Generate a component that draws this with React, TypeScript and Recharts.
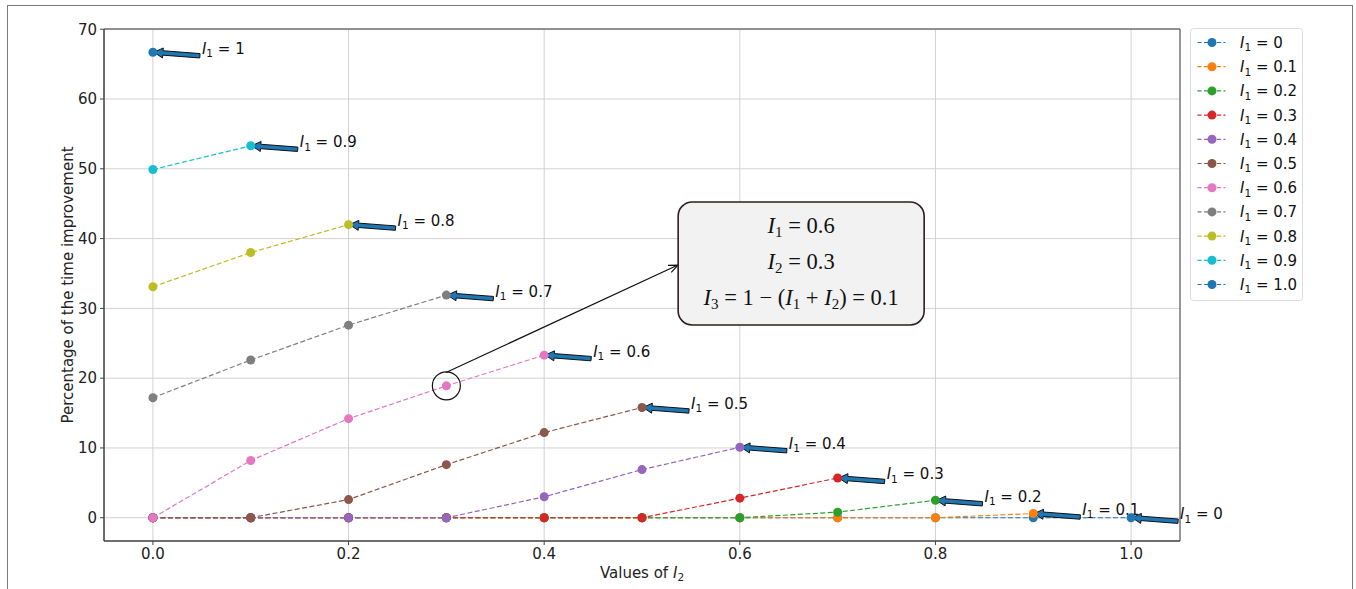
import React from 'react';
import {
  LineChart, Line, XAxis, YAxis, CartesianGrid, ReferenceDot, ReferenceLine, ReferenceArea, Legend,
} from 'recharts';

// ---- data ----
const I2_VALUES = [0, 0.1, 0.2, 0.3, 0.4, 0.5, 0.6, 0.7, 0.8, 0.9, 1.0];
const I1_LEVELS = ['0', '0.1', '0.2', '0.3', '0.4', '0.5', '0.6', '0.7', '0.8', '0.9', '1.0'];
const ARROW_LABELS = ['0', '0.1', '0.2', '0.3', '0.4', '0.5', '0.6', '0.7', '0.8', '0.9', '1'];

const IMPROVEMENT_I1_00 = [0, 0, 0, 0, 0, 0, 0, 0, 0, 0, 0];
const IMPROVEMENT_I1_01 = [0, 0, 0, 0, 0, 0, 0, 0, 0, 0.6];
const IMPROVEMENT_I1_02 = [0, 0, 0, 0, 0, 0, 0, 0.8, 2.5];
const IMPROVEMENT_I1_03 = [0, 0, 0, 0, 0, 0, 2.8, 5.7];
const IMPROVEMENT_I1_04 = [0, 0, 0, 0, 3.0, 6.9, 10.1];
const IMPROVEMENT_I1_05 = [0, 0, 2.6, 7.6, 12.2, 15.8];
const IMPROVEMENT_I1_06 = [0, 8.2, 14.2, 18.9, 23.3];
const IMPROVEMENT_I1_07 = [17.2, 22.6, 27.6, 31.9];
const IMPROVEMENT_I1_08 = [33.1, 38.0, 42.0];
const IMPROVEMENT_I1_09 = [49.9, 53.3];
const IMPROVEMENT_I1_10 = [66.7];

const ALL_SERIES = [
  IMPROVEMENT_I1_00, IMPROVEMENT_I1_01, IMPROVEMENT_I1_02, IMPROVEMENT_I1_03,
  IMPROVEMENT_I1_04, IMPROVEMENT_I1_05, IMPROVEMENT_I1_06, IMPROVEMENT_I1_07,
  IMPROVEMENT_I1_08, IMPROVEMENT_I1_09, IMPROVEMENT_I1_10,
];

const COLORS = [
  '#1f77b4', '#ff7f0e', '#2ca02c', '#d62728', '#9467bd', '#8c564b',
  '#e377c2', '#7f7f7f', '#bcbd22', '#17becf', '#1f77b4',
];

const X_TICKS = [0, 0.2, 0.4, 0.6, 0.8, 1.0];
const Y_TICKS = [0, 10, 20, 30, 40, 50, 60, 70];
const X_DOMAIN = [-0.05, 1.05];
const Y_DOMAIN = [-3.335, 70.035];

const HIGHLIGHT = { x: 0.3, y: 18.9 };
const CALLOUT_START = { x: 0.2996, y: 20.81 };
const CALLOUT_END = { x: 0.5368, y: 36.21 };
const BOX_CENTER = { x: 0.6627, y: 36.43 };

const seriesData = ALL_SERIES.map((vals) => vals.map((v, i) => ({ x: I2_VALUES[i], y: v })));
const lastPoints = seriesData.map((d) => d[d.length - 1]);

const SANS = 'DejaVu Sans';
const SERIF = '"Liberation Serif", "DejaVu Serif", serif';

function I1Text({ x, y, value, fontSize = 15 }: any) {
  return (
    <text x={x} y={y} fontFamily={SANS} fontSize={fontSize} fill="#111">
      <tspan fontStyle="italic">I</tspan>
      <tspan fontSize={fontSize * 0.7} dy={fontSize * 0.22}>1</tspan>
      <tspan dy={-fontSize * 0.22}>{' = ' + value}</tspan>
    </text>
  );
}

function fancyArrow(tipX: number, tipY: number, tailX: number, tailY: number) {
  const dx = tailX - tipX;
  const dy = tailY - tipY;
  const L = Math.hypot(dx, dy);
  const ux = dx / L;
  const uy = dy / L;
  const nx = -uy;
  const ny = ux;
  const headLen = 9;
  const headHalf = 5;
  const shaftHalf = 2.2;
  const bx = tipX + ux * headLen;
  const by = tipY + uy * headLen;
  const pts = [
    [tipX, tipY],
    [bx + nx * headHalf, by + ny * headHalf],
    [bx + nx * shaftHalf, by + ny * shaftHalf],
    [tailX + nx * shaftHalf, tailY + ny * shaftHalf],
    [tailX - nx * shaftHalf, tailY - ny * shaftHalf],
    [bx - nx * shaftHalf, by - ny * shaftHalf],
    [bx - nx * headHalf, by - ny * headHalf],
  ];
  return pts.map((p) => p.join(',')).join(' ');
}

const makeArrowShape = (label: string) => (props: any) => {
  const { cx, cy } = props;
  if (cx == null || cy == null) return <g />;
  const tailX = cx + 47;
  const tailY = cy + 3.5;
  return (
    <g>
      <polygon points={fancyArrow(cx + 1, cy, tailX, tailY)} fill="#1f77b4" stroke="#111" strokeWidth={1} />
      <I1Text x={cx + 49} y={cy + 1.5} value={label} />
    </g>
  );
};

const circleShape = (props: any) => {
  const { cx, cy } = props;
  if (cx == null || cy == null) return <g />;
  return <circle cx={cx} cy={cy} r={14} fill="none" stroke="#111" strokeWidth={1.2} />;
};

const calloutShape = (props: any) => {
  const { x1, y1, x2, y2 } = props;
  if (x1 == null) return <g />;
  const ang = Math.atan2(y2 - y1, x2 - x1);
  const hl = 10;
  const spread = 0.4;
  const ax = x2 - hl * Math.cos(ang - spread);
  const ay = y2 - hl * Math.sin(ang - spread);
  const bx = x2 - hl * Math.cos(ang + spread);
  const by = y2 - hl * Math.sin(ang + spread);
  return (
    <g>
      <line x1={x1} y1={y1} x2={x2} y2={y2} stroke="#111" strokeWidth={1.2} />
      <polyline points={`${ax},${ay} ${x2},${y2} ${bx},${by}`} fill="none" stroke="#111" strokeWidth={1.2} />
    </g>
  );
};

const SUB_FS = 15;
const SUB_DY = 4.5;

// Italic I with subscript, followed by text on the baseline
function mathI(sub: string, after: string, key: string) {
  return [
    <tspan key={key + 'i'} fontStyle="italic">I</tspan>,
    <tspan key={key + 's'} fontSize={SUB_FS} dy={SUB_DY}>{sub}</tspan>,
    <tspan key={key + 'a'} dy={-SUB_DY}>{after}</tspan>,
  ];
}

const boxShape = (props: any) => {
  const { cx, cy } = props;
  if (cx == null || cy == null) return <g />;
  const w = 246;
  const h = 123;
  const fs = 22.5;
  return (
    <g>
      <rect x={cx - w / 2} y={cy - h / 2} width={w} height={h} rx={14} ry={14} fill="#f2f2f2" stroke="#2e1f1f" strokeWidth={1.6} />
      <text x={cx} y={cy - 31} textAnchor="middle" fontFamily={SERIF} fontSize={fs} fill="#111">
        {mathI('1', ' = 0.6', 'a')}
      </text>
      <text x={cx} y={cy + 5} textAnchor="middle" fontFamily={SERIF} fontSize={fs} fill="#111">
        {mathI('2', ' = 0.3', 'b')}
      </text>
      <text x={cx} y={cy + 41} textAnchor="middle" fontFamily={SERIF} fontSize={fs} fill="#111">
        {mathI('3', ' = 1 \u2212 (', 'c')}
        {mathI('1', ' + ', 'd')}
        {mathI('2', ') = 0.1', 'e')}
      </text>
    </g>
  );
};

const LegendContent = (props: any) => {
  const payload = props.payload || [];
  const step = 24.2;
  return (
    <svg width={113} height={273} style={{ display: 'block' }}>
      <rect x={0.5} y={0.5} width={112} height={272} rx={3} fill="#fff" stroke="#dcdcdc" />
      {payload.map((entry: any, i: number) => {
        const cy = 14.5 + i * step;
        return (
          <g key={i}>
            <line x1={7.5} y1={cy} x2={35.5} y2={cy} stroke={entry.color} strokeWidth={1.2} strokeDasharray="4 2.5" />
            <circle cx={22} cy={cy} r={4.5} fill={entry.color} />
            <I1Text x={50} y={cy + 5.5} value={entry.value} />
          </g>
        );
      })}
    </svg>
  );
};

export default function App() {
  return (
    <div style={{ position: 'absolute', left: 0, top: 0, width: 1356, height: 589, overflow: 'hidden', background: '#fff' }}>
      <div style={{ position: 'absolute', left: 7, top: 5, width: 1346, height: 700, border: '1.5px solid #7a7a7a', boxSizing: 'border-box' }} />
      <div style={{ position: 'absolute', left: 0, top: 0 }}>
        <LineChart width={1356} height={589} margin={{ top: 29, right: 176, bottom: 0, left: 44 }}>
          <CartesianGrid stroke="#d2d2d2" strokeWidth={1} />
          <XAxis
            dataKey="x"
            type="number"
            domain={X_DOMAIN}
            allowDataOverflow
            ticks={X_TICKS}
            tickFormatter={(v: number) => v.toFixed(1)}
            height={48}
            stroke="#444"
            tickSize={4}
            tickMargin={3}
            tick={{ fontFamily: SANS, fontSize: 15, fill: '#222' }}
            label={{
              content: (p: any) => {
                const vb = p.viewBox;
                return (
                  <text x={vb.x + vb.width / 2} y={vb.y + 37} textAnchor="middle" fontFamily={SANS} fontSize={15} fill="#222">
                    {'Values of '}
                    <tspan fontStyle="italic">I</tspan>
                    <tspan fontSize={10.5} dy={3.3}>2</tspan>
                  </text>
                );
              },
            }}
          />
          <YAxis
            type="number"
            domain={Y_DOMAIN}
            allowDataOverflow
            ticks={Y_TICKS}
            width={60}
            stroke="#444"
            tickSize={4}
            tickMargin={3}
            tick={{ fontFamily: SANS, fontSize: 15, fill: '#222' }}
            label={{
              content: (p: any) => {
                const vb = p.viewBox;
                const cx = vb.x + 24;
                const cy = vb.y + vb.height / 2;
                return (
                  <text x={cx} y={cy} textAnchor="middle" dominantBaseline="central" transform={`rotate(-90 ${cx} ${cy})`} fontFamily={SANS} fontSize={15} fill="#222">
                    Percentage of the time improvement
                  </text>
                );
              },
            }}
          />
          <ReferenceArea x1={X_DOMAIN[0]} x2={X_DOMAIN[1]} y1={Y_DOMAIN[0]} y2={Y_DOMAIN[1]} fill="none" stroke="#444" strokeWidth={1} ifOverflow="visible" />
          {seriesData.map((d, i) => (
            <Line
              key={i}
              data={d}
              dataKey="y"
              name={I1_LEVELS[i]}
              stroke={COLORS[i]}
              strokeWidth={1.2}
              strokeDasharray="5 2.5"
              dot={{ r: 4.5, fill: COLORS[i], stroke: COLORS[i], strokeWidth: 0 }}
              activeDot={false}
              isAnimationActive={false}
              legendType="circle"
            />
          ))}
          <ReferenceDot x={HIGHLIGHT.x} y={HIGHLIGHT.y} shape={circleShape} ifOverflow="visible" />
          <ReferenceLine
            segment={[CALLOUT_START, CALLOUT_END]}
            shape={calloutShape}
            ifOverflow="visible"
          />
          <ReferenceDot x={BOX_CENTER.x} y={BOX_CENTER.y} shape={boxShape} ifOverflow="visible" />
          {lastPoints.map((p, i) => (
            <ReferenceDot key={'a' + i} x={p.x} y={p.y} shape={makeArrowShape(ARROW_LABELS[i])} ifOverflow="visible" />
          ))}
          <Legend
            layout="vertical"
            align="center"
            verticalAlign="middle"
            content={LegendContent}
            wrapperStyle={{ left: 1190, top: 28, width: 113, height: 273 }}
          />
        </LineChart>
      </div>
    </div>
  );
}
